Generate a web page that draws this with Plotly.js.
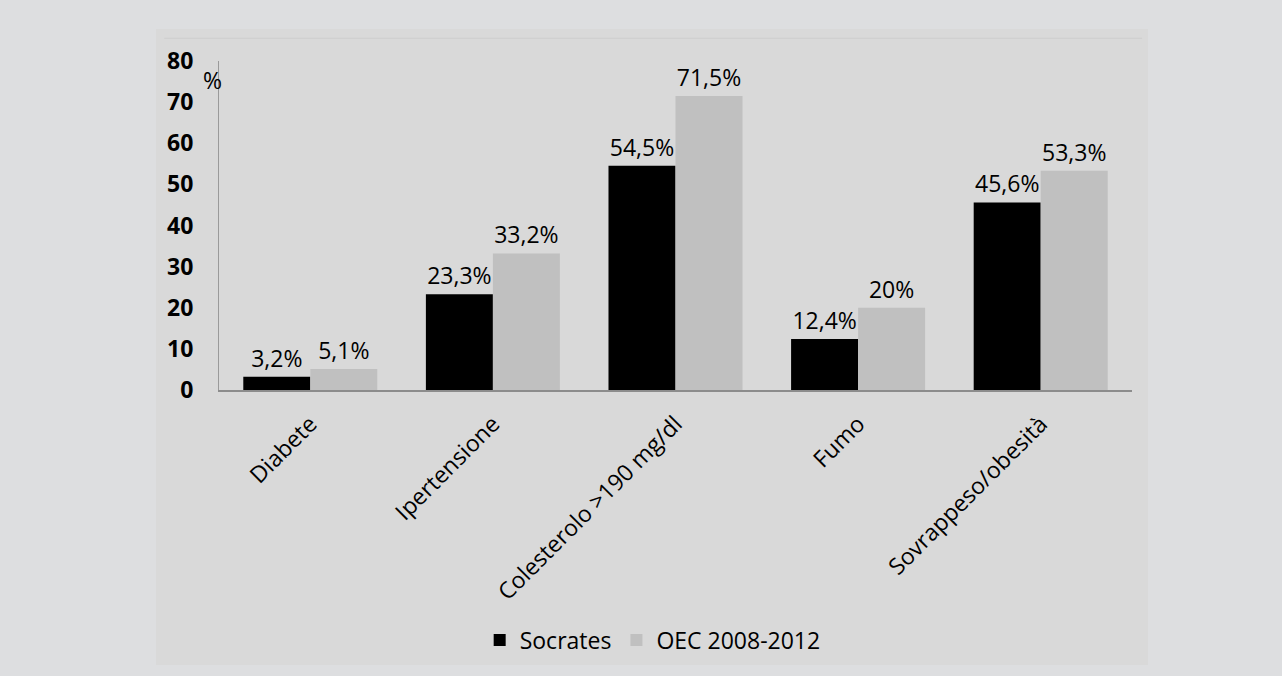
<!DOCTYPE html>
<html>
<head>
<meta charset="utf-8">
<script src="https://cdn.plot.ly/plotly-3.0.1.min.js"></script>
<style>html,body{margin:0;padding:0;background:#dddee0;}#chart{width:1282px;height:676px;}</style>
</head>
<body>
<div id="chart"></div>
<script>
const categories = ["Diabete", "Ipertensione", "Colesterolo >190 mg/dl", "Fumo", "Sovrappeso/obesità"];
const socrates = [3.2, 23.3, 54.5, 12.4, 45.6];
const oec = [5.1, 33.2, 71.5, 20, 53.3];
const seriesNames = ["Socrates", "OEC 2008-2012"];
const yTicks = [0, 10, 20, 30, 40, 50, 60, 70, 80];

const FONT = "Open Sans, Noto Sans, sans-serif";
const barCommon = {
  type: "bar",
  x: categories,
  texttemplate: "%{y}%",
  textposition: "outside",
  constraintext: "none",
  cliponaxis: false,
  textfont: {family: FONT, size: 23, color: "#000"},
  hoverinfo: "skip"
};
const traces = [
  Object.assign({}, barCommon, {y: socrates, name: seriesNames[0], marker: {color: "#000000", line: {width: 0}}}),
  Object.assign({}, barCommon, {y: oec, name: seriesNames[1], marker: {color: "#c0c0c0", line: {width: 0}}})
];

const layout = {
  width: 1282, height: 676,
  paper_bgcolor: "#dddee0",
  plot_bgcolor: "rgba(0,0,0,0)",
  separators: ",.",
  barmode: "group",
  bargap: 0.266,
  bargroupgap: 0,
  margin: {l: 219, r: 150, t: 61, b: 286},
  font: {family: FONT, size: 23, color: "#000"},
  showlegend: true,
  legend: {
    orientation: "h", x: 0.475, xanchor: "center", y: -0.76, yanchor: "middle",
    font: {family: FONT, size: 23, color: "#000"}, bgcolor: "rgba(0,0,0,0)", itemwidth: 30
  },
  xaxis: {
    type: "category",
    showline: true, linecolor: "#8c8c8c", linewidth: 1.5,
    ticks: "", tickangle: -45,
    tickfont: {family: FONT, size: 23, color: "#000"},
    ticklabelstandoff: 10,
    showgrid: false, zeroline: false, fixedrange: true
  },
  yaxis: {
    range: [0, 80], tickvals: yTicks, ticktext: yTicks.map(String),
    showline: true, linecolor: "#9a9a9a", linewidth: 1,
    ticks: "", showgrid: false, zeroline: false,
    tickfont: {family: FONT, size: 23, color: "#000", weight: "bold"},
    ticklabelstandoff: 20, fixedrange: true
  },
  shapes: [
    {type: "rect", xref: "paper", yref: "paper", x0: -0.069, x1: 1.0175, y0: -0.836, y1: 1.097,
     fillcolor: "#d9d9d9", line: {width: 0}, layer: "below"},
    {type: "line", xref: "paper", yref: "paper", x0: -0.06, x1: 1.011, y0: 1.069, y1: 1.069,
     line: {color: "#cecece", width: 1}, layer: "below"}
  ],
  annotations: [
    {text: "%", xref: "paper", yref: "paper", x: -0.0066, y: 0.943, xanchor: "center", yanchor: "middle",
     showarrow: false, font: {family: FONT, size: 23, color: "#000"}}
  ]
};

Plotly.newPlot("chart", traces, layout, {displayModeBar: false, staticPlot: true});
</script>
</body>
</html>
